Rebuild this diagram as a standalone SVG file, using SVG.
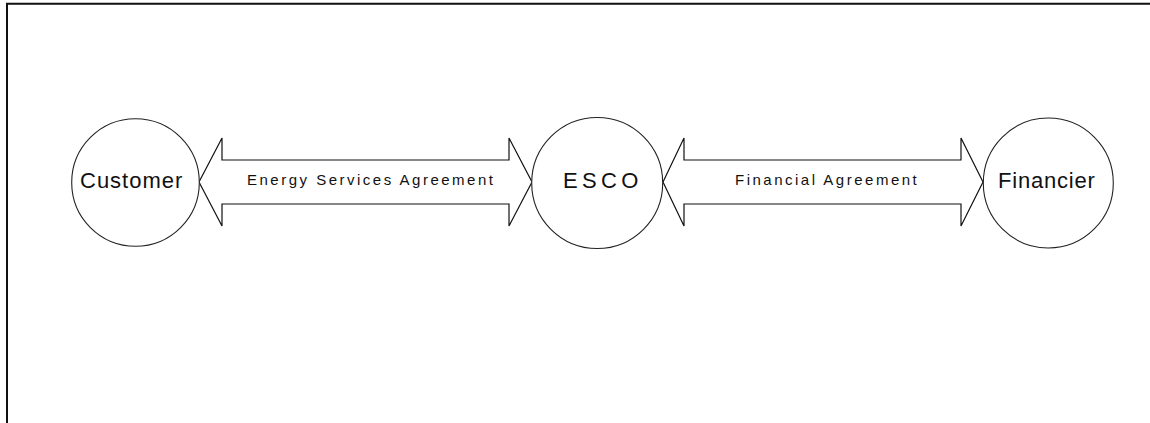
<svg xmlns="http://www.w3.org/2000/svg" width="1150" height="423" viewBox="0 0 1150 423">
  <style>
    .frame { fill: none; stroke: #111; stroke-width: 2; }
    .party { fill: #fff; stroke: #222; stroke-width: 1.1; }
    .link { fill: #fff; stroke: #111; stroke-width: 1.2; stroke-linejoin: miter; }
    .name { font-family: "Liberation Sans", Arial, sans-serif; font-size: 22px; fill: #111; }
    .deal { font-family: "Liberation Sans", Arial, sans-serif; font-size: 15px; letter-spacing: 2.5px; fill: #111; }
  </style>
  <rect width="1150" height="423" fill="#fff"/>
  <!-- page frame: top and left edges only -->
  <path class="frame" d="M7,423 V3.7 H1150"/>

  <!-- two-headed agreement arrows -->
  <g id="connectors">
    <polygon id="energy-services-agreement" class="link" points="199,182 222,138 222,160 509,160 509,138 532,182 509,226 509,204 222,204 222,226"/>
    <polygon id="financial-agreement" class="link" points="663,182 684,138 684,160 961,160 961,138 983,182 961,226 961,204 684,204 684,226"/>
    <text class="deal" x="247" y="185">Energy Services Agreement</text>
    <text class="deal" x="735" y="185">Financial Agreement</text>
  </g>

  <g id="customer">
    <circle class="party" cx="135.5" cy="182.5" r="63.8"/>
    <text class="name" x="80" y="188" letter-spacing="1">Customer</text>
  </g>

  <g id="esco">
    <circle class="party" cx="597.2" cy="183" r="65.5"/>
    <text class="name" x="563" y="188" letter-spacing="4.3">ESCO</text>
  </g>

  <g id="financier">
    <circle class="party" cx="1048.3" cy="183" r="65"/>
    <text class="name" x="998" y="188" letter-spacing="0.8">Financier</text>
  </g>
</svg>
